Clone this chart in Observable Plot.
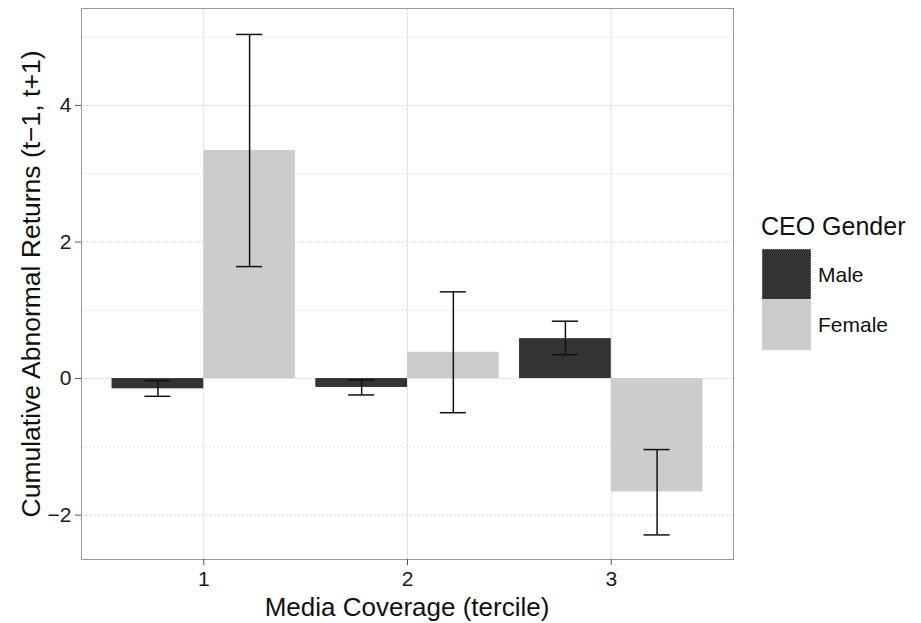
<!DOCTYPE html>
<html><head><meta charset="utf-8">
<script src="https://cdn.jsdelivr.net/npm/d3@7"></script>
<script src="https://cdn.jsdelivr.net/npm/@observablehq/plot@0.6"></script>
<style>
body{margin:0;background:#fff;}
#wrap{position:relative;width:921px;height:623px;font-family:"Liberation Sans",Arial,Helvetica,sans-serif;}
</style>
</head><body><div id="wrap"></div>
<script>
// ---- data ----
const terciles = [1, 2, 3];
const genders = ["Male", "Female"];
const maleMean = [-0.15, -0.13, 0.585];
const maleLow = [-0.26, -0.24, 0.35];
const maleHigh = [-0.03, -0.02, 0.84];
const femaleMean = [3.34, 0.385, -1.66];
const femaleLow = [1.64, -0.50, -2.29];
const femaleHigh = [5.04, 1.27, -1.04];
const yTicks = [-2, 0, 2, 4];
const yMinor = [-1, 1, 3, 5];
const genderColors = ["#333333", "#cccccc"];
const xTitle = "Media Coverage (tercile)";
const yTitle = "Cumulative Abnormal Returns (t\u22121, t+1)";
const legendTitle = "CEO Gender";

// ---- build table ----
const series = {Male: [maleMean, maleLow, maleHigh], Female: [femaleMean, femaleLow, femaleHigh]};
const dodge = 0.45;
const rows = [];
genders.forEach((g, gi) => {
  terciles.forEach((t, i) => {
    const x1 = t - 0.45 + gi * dodge;
    rows.push({tercile: t, gender: g, mean: series[g][0][i], lo: series[g][1][i], hi: series[g][2][i],
      x1, x2: x1 + dodge, c: x1 + dodge / 2});
  });
});
const capHalf = 0.064;
const font = '"Liberation Sans",Arial,Helvetica,sans-serif';

const chart = Plot.plot({
  width: 921, height: 623,
  marginLeft: 81, marginRight: 188, marginTop: 8, marginBottom: 64,
  x: {domain: [0.4, 3.6]},
  y: {domain: [-2.65, 5.42]},
  color: {domain: genders, range: genderColors},
  style: {fontFamily: font, fontSize: "21px", color: "#1a1a1a", background: "white", overflow: "visible"},
  marks: [
    Plot.ruleY(yMinor, {stroke: "#e4e4e4", strokeDasharray: "2,2"}),
    Plot.ruleY(yTicks, {stroke: "#dcdcdc", strokeDasharray: "3,1"}),
    Plot.ruleX(terciles, {stroke: "#dcdcdc", strokeDasharray: "3,1"}),
    Plot.rectY(rows, {x1: "x1", x2: "x2", y1: 0, y2: "mean", fill: "gender"}),
    Plot.ruleX(rows, {x: "c", y1: "lo", y2: "hi", stroke: "#111", strokeWidth: 1.5}),
    Plot.ruleY(rows, {y: "hi", x1: d => d.c - capHalf, x2: d => d.c + capHalf, stroke: "#111", strokeWidth: 1.5}),
    Plot.ruleY(rows, {y: "lo", x1: d => d.c - capHalf, x2: d => d.c + capHalf, stroke: "#111", strokeWidth: 1.5}),
    Plot.frame({stroke: "#9a9a9a"}),
    Plot.axisY({ticks: yTicks, tickSize: 6, tickPadding: 4, fontSize: 21, label: null, tickFormat: d => d < 0 ? "\u2212" + Math.abs(d) : String(d)}),
    Plot.axisX({ticks: terciles, tickSize: 6, tickPadding: 6, fontSize: 21, label: null, tickFormat: d => String(d)})
  ]
});
document.getElementById("wrap").appendChild(chart);

const svg = d3.select(chart);
svg.selectAll('[aria-label="y-axis tick"] path, [aria-label="x-axis tick"] path').attr("stroke", "#555");

svg.append("text")
  .attr("transform", "translate(40,284) rotate(-90)")
  .attr("text-anchor", "middle")
  .attr("font-size", 26.5).attr("font-family", font).attr("fill", "#111")
  .text(yTitle);
svg.append("text")
  .attr("x", 407).attr("y", 616)
  .attr("text-anchor", "middle")
  .attr("font-size", 26).attr("font-family", font).attr("fill", "#111")
  .text(xTitle);

// legend
const lg = svg.append("g").attr("font-family", font).attr("text-anchor", "start");
lg.append("text").attr("x", 761).attr("y", 235).attr("text-anchor", "start").attr("font-size", 25).attr("fill", "#111").text(legendTitle);
genders.forEach((g, i) => {
  const y0 = 249 + i * 50.5;
  lg.append("rect").attr("x", 762).attr("y", y0).attr("width", 49).attr("height", 50.5)
    .attr("fill", genderColors[i]).attr("stroke", "#dddddd").attr("stroke-dasharray", "1,1");
  lg.append("text").attr("x", 818).attr("y", y0 + 32.5).attr("text-anchor", "start").attr("font-size", 21).attr("fill", "#111").text(g);
});
</script>
</body></html>
